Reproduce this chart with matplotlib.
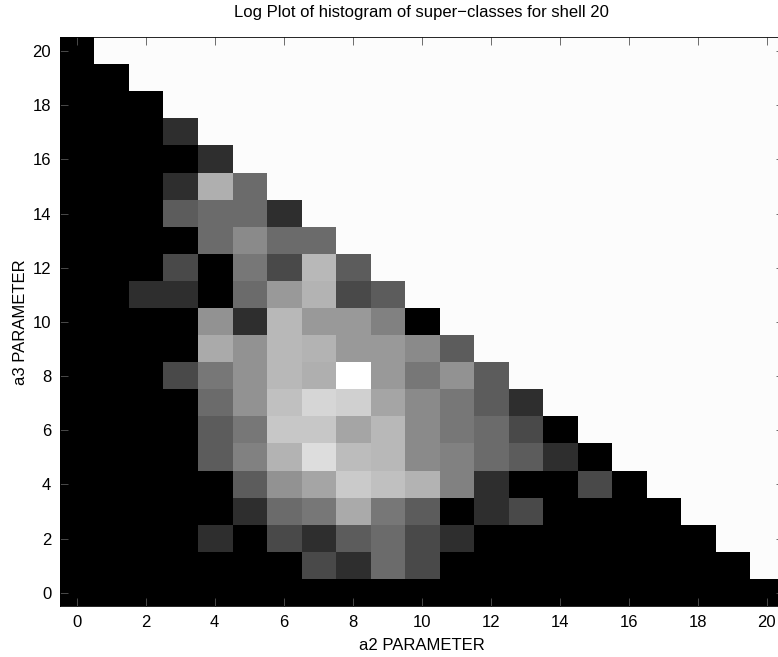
import numpy as np
import matplotlib
matplotlib.use("Agg")
import matplotlib.pyplot as plt

# histogram counts per a3 row, listed for a2 = 0 .. 20-a3 (cells above the diagonal are empty)
A2_VALUES = list(range(21))
A3_VALUES = list(range(21))
COUNTS_BY_A3 = {
    20: [1],
    19: [1, 1],
    18: [1, 1, 1],
    17: [1, 1, 1, 2],
    16: [1, 1, 1, 1, 2],
    15: [1, 1, 1, 2, 14, 5],
    14: [1, 1, 1, 4, 5, 5, 2],
    13: [1, 1, 1, 1, 5, 8, 5, 5],
    12: [1, 1, 1, 3, 1, 6, 3, 16, 4],
    11: [1, 1, 2, 2, 1, 5, 10, 15, 3, 4],
    10: [1, 1, 1, 1, 9, 2, 16, 10, 10, 7, 1],
    9: [1, 1, 1, 1, 13, 9, 16, 15, 10, 10, 8, 4],
    8: [1, 1, 1, 3, 6, 9, 16, 14, 47, 10, 6, 9, 4],
    7: [1, 1, 1, 1, 5, 9, 18, 25, 23, 12, 8, 6, 4, 2],
    6: [1, 1, 1, 1, 4, 6, 20, 20, 12, 16, 8, 6, 5, 3, 1],
    5: [1, 1, 1, 1, 4, 7, 15, 28, 17, 16, 8, 7, 5, 4, 2, 1],
    4: [1, 1, 1, 1, 1, 4, 9, 12, 21, 18, 15, 7, 2, 1, 1, 3, 1],
    3: [1, 1, 1, 1, 1, 2, 5, 6, 13, 6, 4, 1, 2, 3, 1, 1, 1, 1],
    2: [1, 1, 1, 1, 2, 1, 3, 2, 4, 5, 3, 2, 1, 1, 1, 1, 1, 1, 1],
    1: [1, 1, 1, 1, 1, 1, 1, 3, 2, 5, 3, 1, 1, 1, 1, 1, 1, 1, 1, 1],
    0: [1] * 21,
}
TITLE = "Log Plot of histogram of super\u2212classes for shell 20"

plt.rcParams["font.family"] = ["Liberation Sans Narrow", "Liberation Sans", "DejaVu Sans"]

grid = np.full((len(A3_VALUES), len(A2_VALUES)), np.nan)
for a3, row in COUNTS_BY_A3.items():
    grid[a3, : len(row)] = np.log(row)

cmap = plt.get_cmap("gray").copy()
cmap.set_bad("#fcfcfc")

fig = plt.figure(figsize=(7.78, 6.57), dpi=100)
ax = fig.add_axes([59.5 / 778, 50.6 / 657, 724.5 / 778, 569 / 657])

ax.imshow(
    np.ma.masked_invalid(grid),
    cmap=cmap,
    vmin=0,
    vmax=np.nanmax(grid),
    origin="lower",
    extent=(-0.5, 20.5, -0.5, 20.5),
    aspect="auto",
    interpolation="nearest",
)

ax.set_xticks(A2_VALUES[::2])
ax.set_yticks(A3_VALUES[::2])
ax.tick_params(direction="in", top=True, right=True, length=6, width=0.6,
               labelsize=12, pad=6, color="#555555")
for spine in ax.spines.values():
    spine.set_linewidth(0.6)

ax.set_xlabel("a2 PARAMETER", fontsize=12, labelpad=6)
ax.set_ylabel("a3 PARAMETER", fontsize=12, labelpad=3)
ax.set_title(TITLE, fontsize=12, pad=15)

fig.savefig("out.png", dpi=100)
